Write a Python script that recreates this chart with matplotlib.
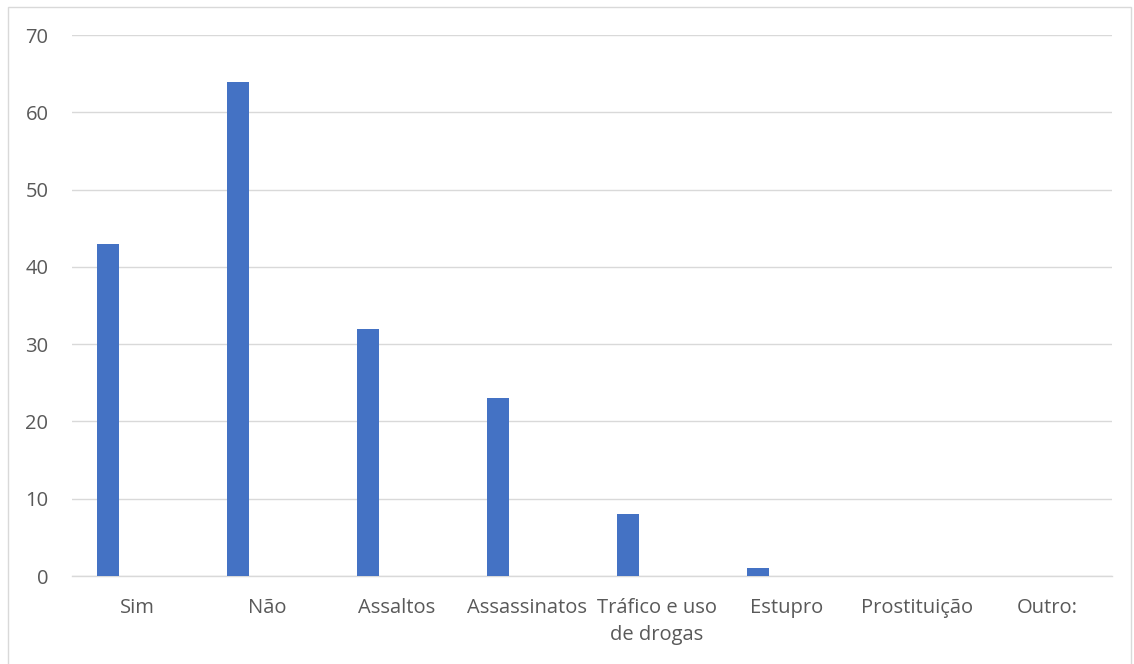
import numpy as np
import matplotlib.pyplot as plt
from matplotlib.patches import Rectangle

## the data
categories = ['Sim', 'Não', 'Assaltos', 'Assassinatos', 'Tráfico e uso\nde drogas',
              'Estupro', 'Prostituição', 'Outro:']
values = [43, 64, 32, 23, 8, 1, 0, 0]
yticks = [0, 10, 20, 30, 40, 50, 60, 70]

plt.rcParams['font.family'] = ['Open Sans', 'DejaVu Sans']

fig = plt.figure(figsize=(11.34, 6.64), dpi=100)
ax = fig.add_axes([0.0635, 0.1325, 0.917, 0.8145])

# chart border like an office chart frame
fig.patches.append(Rectangle((0.007, -0.01), 0.99, 1.0, transform=fig.transFigure,
                             fill=False, edgecolor='#d9d9d9', linewidth=1))

ind = np.arange(len(categories))
width = 0.17
offset = -0.223   # bars sit left in each slot (empty 2nd series)

ax.bar(ind + offset, values, width, color='#4472c4', zorder=3)

ax.set_xlim(-0.5, len(categories) - 0.5)
ax.set_ylim(0, 70)
ax.set_yticks(yticks)
ax.set_xticks(ind)
xtickNames = ax.set_xticklabels(categories)
plt.setp(xtickNames, linespacing=1.45)

ax.grid(axis='y', color='#d9d9d9', linewidth=1, zorder=0)
for s in ['top', 'right', 'left']:
    ax.spines[s].set_visible(False)
ax.spines['bottom'].set_color('#d9d9d9')
ax.spines['bottom'].set_linewidth(1)
ax.tick_params(axis='both', length=0, colors='#595959', labelsize=14.5)
ax.tick_params(axis='x', pad=16)
ax.tick_params(axis='y', pad=17)

plt.savefig('out.png', dpi=100)
